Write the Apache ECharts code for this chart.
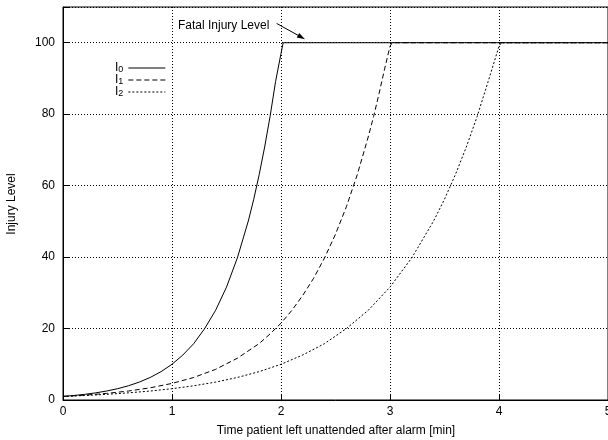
<!DOCTYPE html>
<html>
<head>
<meta charset="utf-8">
<script src="https://cdn.jsdelivr.net/npm/echarts@6/dist/echarts.min.js"></script>
<style>
  html, body { margin: 0; padding: 0; background: #fff; }
  #chart { width: 608px; height: 440px; }
</style>
</head>
<body>
<div id="chart"></div>
<script>
// Injury level over time for three patient classes (capped at the fatal level 100)
const xTicks = [0, 1, 2, 3, 4, 5];
const yTicks = [0, 20, 40, 60, 80, 100];

// [time in minutes, injury level]
const injuryI0 = [
  [0, 1.0], [0.1, 1.26], [0.2, 1.58], [0.3, 2.0], [0.4, 2.51], [0.5, 3.16],
  [0.6, 3.98], [0.7, 5.01], [0.8, 6.31], [0.9, 7.94], [1.0, 10.0], [1.1, 12.6],
  [1.2, 15.8], [1.3, 20.0], [1.4, 25.1], [1.5, 31.6], [1.6, 39.8], [1.7, 50.1],
  [1.75, 56.2], [1.8, 63.1], [1.85, 70.8], [1.9, 79.4], [1.95, 89.1], [2.0, 97.0],
  [2.02, 100], [5.2, 100]
];
const injuryI1 = [
  [0, 1.0], [0.2, 1.36], [0.4, 1.85], [0.6, 2.51], [0.8, 3.41], [1.0, 4.64],
  [1.2, 6.31], [1.4, 8.58], [1.6, 11.7], [1.8, 15.8], [1.9, 18.5], [2.0, 21.5],
  [2.1, 25.1], [2.2, 29.3], [2.3, 34.1], [2.4, 39.8], [2.5, 46.4], [2.6, 54.1],
  [2.7, 63.1], [2.8, 73.6], [2.85, 79.4], [2.9, 85.8], [2.95, 92.6], [3.0, 99.0],
  [3.02, 100], [5.2, 100]
];
const injuryI2 = [
  [0, 1.0], [0.2, 1.26], [0.4, 1.58], [0.6, 2.0], [0.8, 2.51], [1.0, 3.16],
  [1.2, 3.98], [1.4, 5.01], [1.6, 6.31], [1.8, 7.94], [2.0, 10.0], [2.2, 12.6],
  [2.4, 15.8], [2.6, 20.0], [2.8, 25.1], [3.0, 31.6], [3.2, 39.8], [3.4, 50.1],
  [3.5, 56.2], [3.6, 63.1], [3.7, 70.8], [3.8, 79.4], [3.9, 89.1], [4.0, 99.0],
  [4.02, 100], [5.2, 100]
];
const seriesNames = ['I0', 'I1', 'I2'];
const fatalLevel = 100;
const fatalLabel = 'Fatal Injury Level';
// annotation arrow: tail and head in data coordinates
const arrowTail = [1.96, 105.4];
const arrowHead = [2.22, 101.0];

const FONT = '"Liberation Sans", Arial, Helvetica, sans-serif';
const chart = echarts.init(document.getElementById('chart'), null, { renderer: 'canvas' });

const lineStyles = [
  { color: '#000', width: 1, type: 'solid' },
  { color: '#000', width: 1, type: [5, 3] },
  { color: '#000', width: 1, type: [2, 2] }
];
const dataSets = [injuryI0, injuryI1, injuryI2];

const series = seriesNames.map((name, i) => ({
  name: name,
  type: 'line',
  data: dataSets[i],
  showSymbol: false,
  symbol: 'none',
  lineStyle: lineStyles[i],
  itemStyle: { color: '#000' },
  clip: true,
  animation: false,
  z: 3
}));

const baseGraphics = [
  { type: 'text', left: 178, top: 20, silent: true,
    style: { text: fatalLabel, fill: '#000', font: '12px ' + FONT } },
  { type: 'text', x: 336, y: 431, silent: true,
    style: { text: 'Time patient left unattended after alarm [min]', fill: '#000',
      font: '12px ' + FONT, align: 'center', verticalAlign: 'middle' } },
  { type: 'text', x: 12, y: 204, rotation: Math.PI / 2, silent: true,
    style: { text: 'Injury Level', fill: '#000', font: '12px ' + FONT,
      align: 'center', verticalAlign: 'middle' } }
];

chart.setOption({
  animation: false,
  backgroundColor: '#fff',
  textStyle: { fontFamily: FONT },
  grid: {
    left: 63, right: 0, top: 7, bottom: 40,
    containLabel: false,
    outerBoundsMode: 'none',
    show: true, borderColor: '#000', borderWidth: 1, backgroundColor: 'transparent'
  },
  legend: {
    orient: 'vertical',
    left: 110, top: 57,
    align: 'right',
    itemWidth: 37, itemHeight: 12, itemGap: 0,
    data: seriesNames,
    itemStyle: { opacity: 0 },
    lineStyle: { width: 1 },
    formatter: n => '{i|I}{s|' + n.slice(1) + '}',
    textStyle: {
      color: '#000',
      rich: {
        i: { fontSize: 12, lineHeight: 12, fontFamily: FONT, color: '#000' },
        s: { fontSize: 9, lineHeight: 9, fontFamily: FONT, color: '#000', verticalAlign: 'bottom', padding: [3, 0, 0, 0] }
      }
    },
    selectedMode: false
  },
  xAxis: {
    type: 'value',
    min: xTicks[0], max: xTicks[xTicks.length - 1], interval: 1,
    axisLine: { show: true, lineStyle: { color: '#000', width: 1 } },
    axisTick: { show: true, inside: true, length: 6, lineStyle: { color: '#000' } },
    axisLabel: { color: '#000', fontSize: 12, margin: 6, fontFamily: FONT,
      formatter: v => xTicks.includes(v) ? String(v) : '' },
    splitLine: { show: true, lineStyle: { color: '#000', width: 1, type: [1, 2] } }
  },
  yAxis: {
    type: 'value',
    min: 0, max: 110, interval: 20,
    axisLine: { show: true, lineStyle: { color: '#000', width: 1 } },
    axisTick: { show: true, inside: true, length: 6, lineStyle: { color: '#000' } },
    axisLabel: { color: '#000', fontSize: 12, margin: 8, fontFamily: FONT,
      formatter: v => yTicks.includes(v) ? String(v) : '' },
    splitLine: { show: true, lineStyle: { color: '#000', width: 1, type: [1, 2] } }
  },
  graphic: baseGraphics,
  series: series
});

// Arrow from the label to the plateau, placed through the chart's own scales
const p0 = chart.convertToPixel({ gridIndex: 0 }, arrowTail);
const p1 = chart.convertToPixel({ gridIndex: 0 }, arrowHead);
const ang = Math.atan2(p1[1] - p0[1], p1[0] - p0[0]);
const headLen = 8, headHalf = 2.6;
const bx = p1[0] - headLen * Math.cos(ang), by = p1[1] - headLen * Math.sin(ang);
const nx = -Math.sin(ang) * headHalf, ny = Math.cos(ang) * headHalf;
chart.setOption({
  graphic: baseGraphics.concat([
    { type: 'line', silent: true, z: 10,
      shape: { x1: p0[0], y1: p0[1], x2: bx, y2: by },
      style: { stroke: '#000', lineWidth: 1 } },
    { type: 'polygon', silent: true, z: 10,
      shape: { points: [[p1[0], p1[1]], [bx + nx, by + ny], [bx - nx, by - ny]] },
      style: { fill: '#000' } }
  ])
});
</script>
</body>
</html>
